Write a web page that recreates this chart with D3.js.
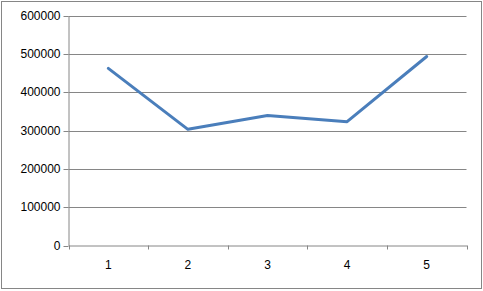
<!DOCTYPE html>
<html><head><meta charset="utf-8">
<script src="https://cdn.jsdelivr.net/npm/d3@7"></script>
<style>html,body{margin:0;padding:0;background:#fff;}svg{display:block;}</style>
</head><body>
<script>
const categories = ["1","2","3","4","5"];
const values = [462000, 303000, 339000, 323000, 493000];
const yTicks = [0,100000,200000,300000,400000,500000,600000];

const W = 483, H = 291;
const m = {left:68.5, right:16.5, top:15.5, bottom:45.5};
const svg = d3.select("body").append("svg").attr("width",W).attr("height",H);
svg.append("rect").attr("x",1.5).attr("y",1.5).attr("width",W-3).attr("height",H-4)
  .attr("fill","#fff").attr("stroke","#868686").attr("stroke-width",1);

const x = d3.scaleBand().domain(categories).range([m.left, W-m.right]);
const y = d3.scaleLinear().domain([0,600000]).range([H-m.bottom, m.top]);
const font = "'Liberation Sans', Arial, sans-serif";

// gridlines
svg.append("g").selectAll("line").data(yTicks.filter(d=>d>0)).join("line")
  .attr("x1",m.left).attr("x2",W-m.right)
  .attr("y1",d=>Math.round(y(d))+0.5).attr("y2",d=>Math.round(y(d))+0.5)
  .attr("stroke","#868686").attr("stroke-width",1);

// y axis
const ya = svg.append("g").attr("transform",`translate(${m.left},0)`)
  .call(d3.axisLeft(y).tickValues(yTicks).tickFormat(d3.format("d")).tickSize(5).tickPadding(3).tickSizeOuter(0));
ya.select(".domain").attr("stroke","#868686");
ya.selectAll(".tick line").attr("stroke","#868686");
ya.selectAll(".tick").attr("transform",d=>`translate(0,${Math.round(y(d))+0.5})`);
ya.selectAll("text").attr("font-family",font).attr("font-size",12).attr("fill","#000");

// x axis
const xa = svg.append("g").attr("transform",`translate(0,${H-m.bottom})`)
  .call(d3.axisBottom(x).tickSize(0).tickPadding(15));
xa.select(".domain").attr("stroke","#868686");
xa.selectAll("text").attr("font-family",font).attr("font-size",12).attr("fill","#000");
// category boundary ticks
const bounds = categories.map(c=>x(c)).concat([x(categories[categories.length-1])+x.bandwidth()]);
xa.append("g").selectAll("line").data(bounds).join("line")
  .attr("x1",d=>Math.round(d)+0.5).attr("x2",d=>Math.round(d)+0.5)
  .attr("y1",0).attr("y2",4).attr("stroke","#868686");

// line
const line = d3.line().x((d,i)=>x(categories[i])+x.bandwidth()/2).y(d=>y(d));
svg.append("path").datum(values).attr("d",line)
  .attr("fill","none").attr("stroke","#4A7EBB").attr("stroke-width",3)
  .attr("stroke-linejoin","round").attr("stroke-linecap","round");
</script>
</body></html>
